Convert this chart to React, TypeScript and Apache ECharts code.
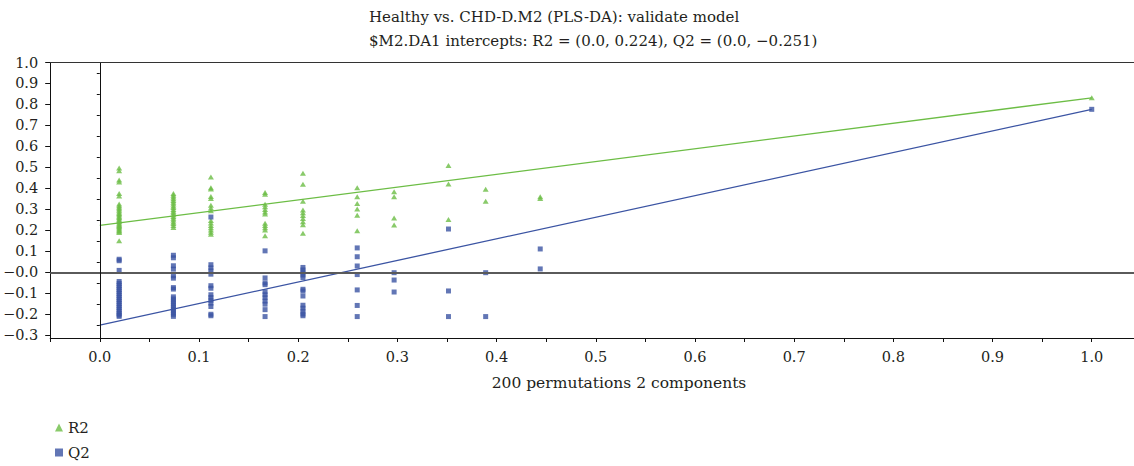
import React, { useEffect, useRef } from "react";
import * as echarts from "echarts";

// Permutation correlation positions (x) for each cluster of permuted models
const clusterX = [0.0195, 0.0742, 0.112, 0.1666, 0.2048, 0.2595, 0.2967, 0.3515, 0.389, 0.444];

// R2 values of permuted models, one list per cluster
const r2Groups: number[][] = [
  [0.497, 0.485, 0.441, 0.431, 0.376, 0.364, 0.326, 0.318, 0.311, 0.303, 0.296, 0.288, 0.281, 0.275, 0.268, 0.262, 0.255, 0.249, 0.243, 0.236, 0.23, 0.224, 0.219, 0.213, 0.207, 0.201, 0.196, 0.19, 0.151],
  [0.376, 0.368, 0.359, 0.351, 0.343, 0.334, 0.326, 0.317, 0.309, 0.3, 0.292, 0.284, 0.275, 0.267, 0.258, 0.25, 0.241, 0.233, 0.224, 0.214],
  [0.455, 0.404, 0.397, 0.362, 0.352, 0.32, 0.307, 0.294, 0.247, 0.236, 0.224, 0.213, 0.202, 0.192, 0.182],
  [0.381, 0.373, 0.325, 0.313, 0.3, 0.288, 0.278, 0.235, 0.224, 0.213, 0.202, 0.175],
  [0.472, 0.42, 0.339, 0.298, 0.285, 0.271, 0.257, 0.242, 0.227, 0.187],
  [0.404, 0.361, 0.329, 0.302, 0.272, 0.199],
  [0.385, 0.361, 0.26, 0.226],
  [0.509, 0.421, 0.252],
  [0.396, 0.339],
  [0.361, 0.352],
];

// Q2 values of permuted models, one list per cluster
const q2Groups: number[][] = [
  [0.063, 0.056, 0.01, -0.043, -0.052, -0.062, -0.071, -0.081, -0.09, -0.1, -0.11, -0.119, -0.129, -0.138, -0.148, -0.158, -0.167, -0.177, -0.186, -0.196, -0.203, -0.209],
  [0.082, 0.07, 0.032, 0.016, -0.016, -0.027, -0.072, -0.079, -0.116, -0.126, -0.137, -0.147, -0.158, -0.168, -0.179, -0.189, -0.199, -0.209],
  [0.264, 0.037, 0.022, 0.008, -0.008, -0.063, -0.075, -0.106, -0.119, -0.132, -0.146, -0.162, -0.199, -0.206],
  [0.103, -0.026, -0.05, -0.058, -0.092, -0.106, -0.12, -0.136, -0.151, -0.177, -0.21],
  [0.024, 0.012, 0.0, -0.012, -0.024, -0.08, -0.088, -0.112, -0.156, -0.17, -0.184, -0.198, -0.206],
  [0.117, 0.075, 0.031, -0.01, -0.083, -0.157, -0.21],
  [-0.001, -0.036, -0.093],
  [0.207, -0.088, -0.21],
  [-0.001, -0.21],
  [0.112, 0.017],
];

// Original (unpermuted) model
const originalX = 1.0;
const r2Original = 0.832;
const q2Original = 0.777;

// Intercepts of the validation lines
const r2Intercept = 0.224;
const q2Intercept = -0.251;

// Axis ticks and labels
const xLabelValues = [0, 0.1, 0.2, 0.3, 0.4, 0.5, 0.6, 0.7, 0.8, 0.9, 1.0];
const xTickValues = [-0.05, 0, 0.05, 0.1, 0.15, 0.2, 0.25, 0.3, 0.35, 0.4, 0.45, 0.5, 0.55, 0.6, 0.65, 0.7, 0.75, 0.8, 0.85, 0.9, 0.95, 1.0];
const yLabelValues = [-0.3, -0.2, -0.1, 0, 0.1, 0.2, 0.3, 0.4, 0.5, 0.6, 0.7, 0.8, 0.9, 1.0];
const yMinorValues = [-0.25, -0.15, -0.05, 0.05, 0.15, 0.25, 0.35, 0.45, 0.55, 0.65, 0.75, 0.85, 0.95];

const titleLine1 = "Healthy vs. CHD-D.M2 (PLS-DA): validate model";
const xAxisTitle = "200 permutations 2 components";

const FONT = "DejaVu Serif";
const GREEN = "#6cbd45";
const BLUE = "#3b54a3";
const TEXT = "#231f20";

function fmtSigned(v: number): string {
  return v < 0 ? "\u2212" + Math.abs(v).toFixed(3) : v.toFixed(3);
}

export default function App() {
  const ref = useRef<HTMLDivElement>(null);

  useEffect(() => {
    if (!ref.current) return;
    const chart = echarts.init(ref.current, undefined, { renderer: "svg" });

    const r2Data: number[][] = [];
    const q2Data: number[][] = [];
    clusterX.forEach((x, i) => {
      r2Groups[i].forEach((v) => r2Data.push([x, v]));
      q2Groups[i].forEach((v) => q2Data.push([x, v]));
    });
    r2Data.push([originalX, r2Original]);
    q2Data.push([originalX, q2Original]);

    const titleLine2 =
      "$M2.DA1 intercepts: R2 = (0.0, " + fmtSigned(r2Intercept) + "), Q2 = (0.0, " + fmtSigned(q2Intercept) + ")";

    const yLabelFmt = (v: number) => (v <= 0 ? "\u2212" + Math.abs(v).toFixed(1) : v.toFixed(1));

    const legendBase = {
      orient: "horizontal",
      left: 50,
      itemWidth: 8,
      itemHeight: 8,
      itemGap: 6,
      textStyle: { fontFamily: FONT, fontSize: 15, color: TEXT },
    };

    chart.setOption({
      animation: false,
      backgroundColor: "#ffffff",
      textStyle: { fontFamily: FONT },
      title: {
        text: titleLine1 + "\n" + titleLine2,
        left: 364,
        top: 0,
        textStyle: { fontFamily: FONT, fontSize: 15, fontWeight: "normal", color: TEXT, lineHeight: 24 },
      },
      legend: [
        { ...legendBase, top: 415, data: [{ name: "R2", icon: "triangle" }] },
        { ...legendBase, top: 440, data: [{ name: "Q2", icon: "rect" }] },
      ],
      grid: { left: 49.5, right: 0, top: 62.5, bottom: 128, containLabel: false },
      xAxis: {
        type: "value",
        min: -0.05,
        max: 1.0426,
        splitLine: { show: false },
        axisLine: { show: true, onZero: false, lineStyle: { color: "#111", width: 1 } },
        axisTick: { show: true, length: 4, customValues: xTickValues, lineStyle: { color: "#111" } },
        axisLabel: {
          customValues: xLabelValues,
          formatter: (v: number) => v.toFixed(1),
          fontFamily: FONT,
          fontSize: 14.5,
          color: TEXT,
          margin: 11,
        },
      },
      yAxis: [
        {
          type: "value",
          min: -0.312,
          max: 1.0,
          splitLine: { show: false },
          axisLine: { show: true, onZero: false, lineStyle: { color: "#111", width: 1 } },
          axisTick: { show: true, length: 5, customValues: yLabelValues, lineStyle: { color: "#111" } },
          axisLabel: {
            customValues: yLabelValues,
            formatter: yLabelFmt,
            fontFamily: FONT,
            fontSize: 14.5,
            color: TEXT,
            margin: 12,
          },
        },
        {
          type: "value",
          position: "left",
          min: -0.312,
          max: 1.0,
          splitLine: { show: false },
          axisLine: { show: false },
          axisTick: { show: true, length: 3, customValues: yMinorValues, lineStyle: { color: "#111" } },
          axisLabel: { show: false },
        },
      ],
      series: [
        {
          name: "refs",
          type: "line",
          data: [],
          z: 1,
          silent: true,
          markLine: {
            silent: true,
            symbol: "none",
            label: { show: false },
            animation: false,
            data: [
              { yAxis: 0, lineStyle: { color: "#5a5a5a", width: 2, type: "solid" } },
              { xAxis: 0, lineStyle: { color: "#111", width: 1, type: "solid" } },
              { yAxis: 1.0, lineStyle: { color: "#333", width: 1, type: "solid" } },
            ],
          },
        },
        {
          name: "R2 line",
          type: "line",
          data: [
            [0, r2Intercept],
            [originalX, r2Original],
          ],
          showSymbol: false,
          symbol: "none",
          z: 2,
          lineStyle: { color: GREEN, width: 1.3 },
          silent: true,
        },
        {
          name: "Q2 line",
          type: "line",
          data: [
            [0, q2Intercept],
            [originalX, q2Original],
          ],
          showSymbol: false,
          symbol: "none",
          z: 2,
          lineStyle: { color: BLUE, width: 1.3 },
          silent: true,
        },
        {
          name: "R2",
          type: "scatter",
          symbol: "triangle",
          symbolSize: [6, 5],
          z: 3,
          itemStyle: { color: GREEN },
          data: r2Data,
        },
        {
          name: "Q2",
          type: "scatter",
          symbol: "rect",
          symbolSize: 5,
          z: 3,
          itemStyle: { color: BLUE },
          data: q2Data,
        },
      ],
      graphic: [
        {
          type: "text",
          x: 619,
          y: 383,
          style: {
            text: xAxisTitle,
            fontFamily: FONT,
            fontSize: 15.5,
            fill: TEXT,
            align: "center",
            verticalAlign: "middle",
          },
        },
      ],
    });

    return () => {
      chart.dispose();
    };
  }, []);

  return (
    <div
      ref={ref}
      style={{ position: "fixed", left: 0, top: 0, width: 1134, height: 466, background: "#fff" }}
    />
  );
}
